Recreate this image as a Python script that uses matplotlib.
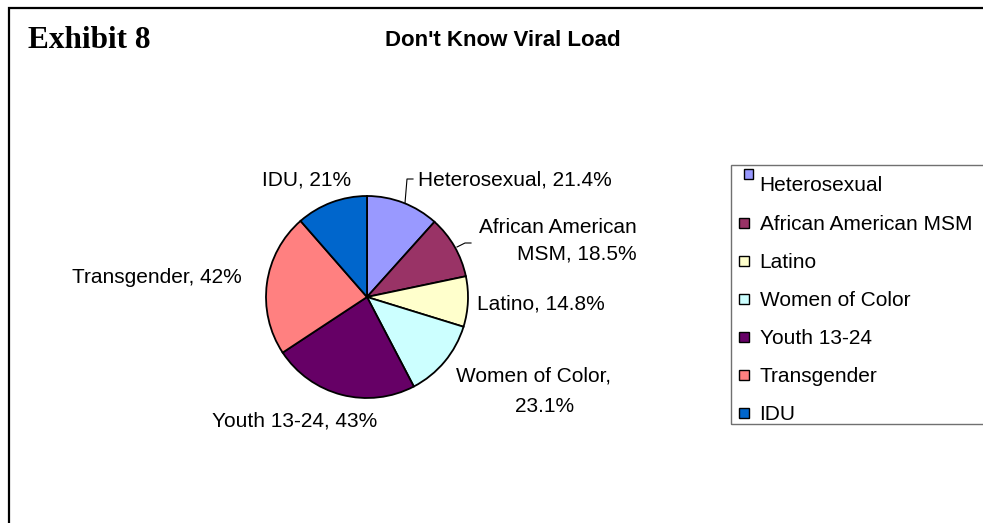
import matplotlib.pyplot as plt
from matplotlib.patches import Rectangle

# Data
categories = ["Heterosexual", "African American MSM", "Latino", "Women of Color",
              "Youth 13-24", "Transgender", "IDU"]
values = [21.4, 18.5, 14.8, 23.1, 43, 42, 21]
colors = ["#9999FF", "#993366", "#FFFFCC", "#CCFFFF", "#660066", "#FF8080", "#0066CC"]

title = "Don't Know Viral Load"
exhibit = "Exhibit 8"

W, H = 983, 523


def Y(y):
    # pixel row (from top) -> data y (from bottom)
    return H - y


fig = plt.figure(figsize=(W / 100, H / 100), dpi=100, facecolor="white")
ax = fig.add_axes([0, 0, 1, 1])

# Pie, clockwise from 12 o'clock
ax.pie(values, colors=colors, startangle=90, counterclock=False,
       center=(367, Y(297)), radius=101,
       wedgeprops=dict(edgecolor="black", linewidth=1.3))
ax.set_xlim(0, W)
ax.set_ylim(0, H)
ax.set_aspect("auto")
ax.axis("off")

label_font = dict(family="Liberation Sans", fontsize=15, color="black")

# Data labels: (x, baseline, ha, first line, line step, second-line x)
label_layout = [
    (418, 185.5, "left", None, 0, None),
    (637, 233, "right", "African American", 27, 637),
    (477, 310, "left", None, 0, None),
    (534, 382, "center", "Women of Color,", 29.5, 545),
    (212, 426.5, "left", None, 0, None),
    (72, 283, "left", None, 0, None),
    (262, 186, "left", None, 0, None),
]
for cat, val, (x, yb, ha, first, step, x2) in zip(categories, values, label_layout):
    text = f"{cat}, {val:g}%"
    if first:
        rest = text[len(first):].lstrip(",").strip()
        ax.text(x, Y(yb), first, ha=ha, va="baseline", **label_font)
        ax.text(x2, Y(yb + step), rest, ha=ha, va="baseline", **label_font)
    else:
        ax.text(x, Y(yb), text, ha=ha, va="baseline", **label_font)

# Leader lines
ax.plot([405, 407, 413], [Y(203), Y(179), Y(179)], color="black", lw=0.8)
ax.plot([457, 465, 471], [Y(247), Y(243), Y(243)], color="black", lw=0.8)

# Titles
ax.text(28, Y(48), exhibit, ha="left", va="baseline",
        family="Liberation Serif", fontweight="bold", fontsize=22.5)
ax.text(503, Y(46), title, ha="center", va="baseline",
        family="Liberation Sans", fontweight="bold", fontsize=16)

# Outer frame (top and left only)
ax.plot([9, 9, W + 5], [Y(H + 5), Y(8), Y(8)], color="black", lw=1.6,
        solid_joinstyle="miter", clip_on=False)

# Legend
ax.add_patch(Rectangle((731, Y(424)), 270, 424 - 165, fill=False,
                       edgecolor="#707070", lw=1.0))
row_step = 38.1
for i, (cat, col) in enumerate(zip(categories, colors)):
    cy = 184.4 + i * row_step
    if i == 0:
        ax.add_patch(Rectangle((743.5, Y(178.5)), 9.5, 9.5, facecolor=col,
                               edgecolor="black", lw=1.0))
    else:
        ax.add_patch(Rectangle((739, Y(cy + 5)), 10, 10, facecolor=col,
                               edgecolor="black", lw=1.0))
    ax.text(759.5, Y(cy + 7), cat, ha="left", va="baseline", **label_font)

fig.savefig("out.png", dpi=100, facecolor="white")
